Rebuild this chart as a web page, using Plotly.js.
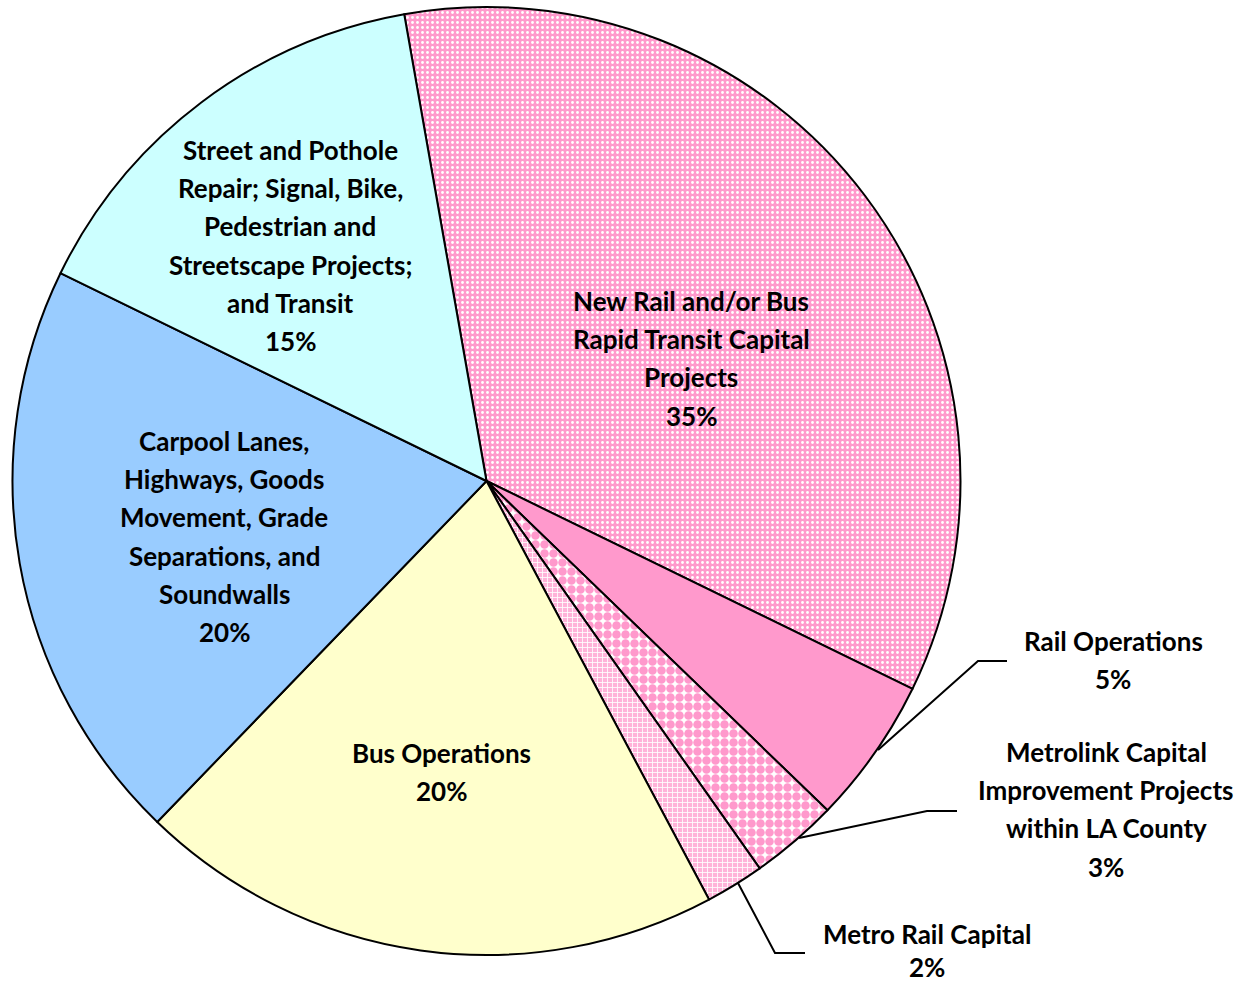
<!DOCTYPE html>
<html>
<head>
<meta charset="utf-8">
<script src="https://cdn.plot.ly/plotly-3.0.1.min.js"></script>
<style>html,body{margin:0;padding:0;background:#fff;}#chart{width:1259px;height:985px;}</style>
</head>
<body>
<div id="chart"></div>
<script>
// ---- data ----
const categories = [
  "New Rail and/or Bus Rapid Transit Capital Projects",
  "Rail Operations",
  "Metrolink Capital Improvement Projects within LA County",
  "Metro Rail Capital",
  "Bus Operations",
  "Carpool Lanes, Highways, Goods Movement, Grade Separations, and Soundwalls",
  "Street and Pothole Repair; Signal, Bike, Pedestrian and Streetscape Projects; and Transit"
];
const shares = [35, 5, 3, 2, 20, 20, 15];
const labelLines = [
  ["New Rail and/or Bus", "Rapid Transit Capital", "Projects"],
  ["Rail Operations"],
  ["Metrolink Capital", "Improvement Projects", "within LA County"],
  ["Metro Rail Capital"],
  ["Bus Operations"],
  ["Carpool Lanes,", "Highways, Goods", "Movement, Grade", "Separations, and", "Soundwalls"],
  ["Street and Pothole", "Repair; Signal, Bike,", "Pedestrian and", "Streetscape Projects;", "and Transit"]
];

// ---- styles ----
const W = 1259, H = 985;
const sliceColors = ["#ff99cc", "#ff99cc", "#ffffff", "#ffb3d9", "#ffffcc", "#99ccff", "#ccffff"];
const patShapes = [".", "", ".", "+", "", "", ""];
const patFg = ["#ffffff", "#ffffff", "#ff99cc", "#ffffff", "#ffffff", "#ffffff", "#ffffff"];
const patSize = [5, 8, 9, 5, 8, 8, 8];
const patSolid = [0.25, 0.3, 0.7, 0.3, 0.3, 0.3, 0.3];

// label anchor (pixel centre x, first line centre y)
const labelPos = [[691, 301], [1113, 641], [1106, 752], [927, 934], [441, 753], [224, 441], [290, 150]];
const lineStep = 38.2;

const px = x => x / W;
const py = y => 1 - y / H;

// pie geometry: centre (486.5, 481), radius 474
const cx = 486.5, cy = 481, R = 474;

const annotations = [];
labelLines.forEach((lines, i) => {
  const all = lines.concat([shares[i] + "%"]);
  all.forEach((t, k) => {
    annotations.push({
      text: t, showarrow: false, xref: "paper", yref: "paper",
      x: px(labelPos[i][0]), y: py(Math.min(labelPos[i][1] + k * lineStep, 967)),
      xanchor: "center", yanchor: "middle",
      font: {family: "Lato, 'Open Sans', sans-serif", size: 26, weight: 700, color: "#000"}
    });
  });
});

// leader lines (pixel polylines)
const leaders = [
  [[878, 750], [978, 661], [1007, 661]],
  [[799, 838], [927, 811], [957, 811]],
  [[738, 883], [775, 953], [805, 953]]
];
const shapes = leaders.map(pts => ({
  type: "path", xref: "paper", yref: "paper",
  path: pts.map((p, j) => (j ? "L" : "M") + px(p[0]) + "," + py(p[1])).join(" "),
  line: {color: "#000", width: 2}
}));

const trace = {
  type: "pie",
  labels: categories,
  values: shares,
  sort: false,
  direction: "clockwise",
  rotation: -10,
  textinfo: "none",
  hoverinfo: "label+percent",
  showlegend: false,
  domain: {x: [px(cx - R), px(cx + R)], y: [py(cy + R), py(cy - R)]},
  marker: {
    colors: sliceColors,
    line: {color: "#000", width: 2},
    pattern: {
      shape: patShapes,
      fgcolor: patFg,
      bgcolor: sliceColors,
      size: patSize,
      solidity: patSolid,
      fillmode: "replace"
    }
  }
};

const layout = {
  width: W, height: H,
  margin: {l: 0, r: 0, t: 0, b: 0},
  paper_bgcolor: "#ffffff",
  showlegend: false,
  annotations: annotations,
  shapes: shapes
};

Plotly.newPlot("chart", [trace], layout, {displayModeBar: false, staticPlot: true});
</script>
</body>
</html>
